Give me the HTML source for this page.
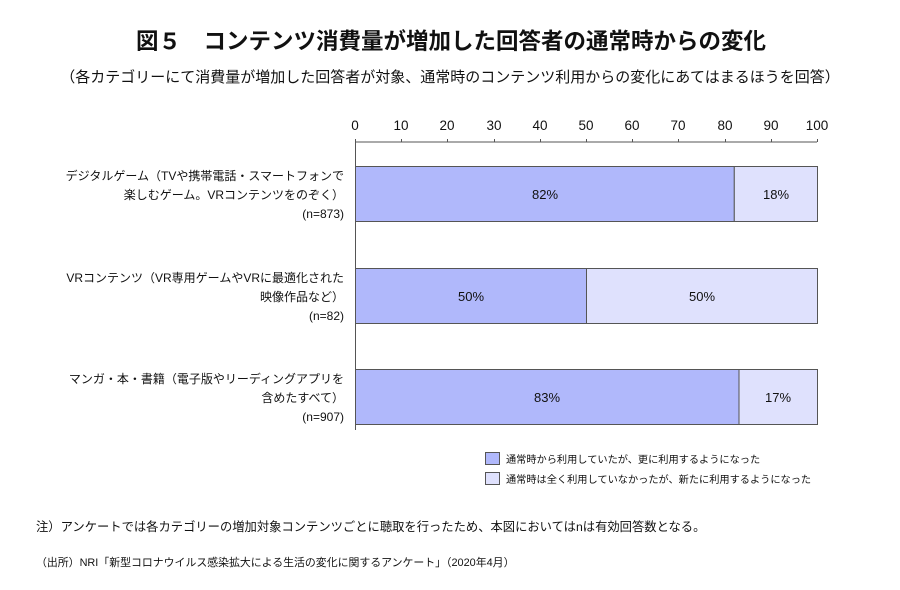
<!DOCTYPE html>
<html><head><meta charset="utf-8"><style>
body{margin:0;background:#fff;}
svg text{font-family:"Liberation Sans","Noto Sans CJK JP",sans-serif;fill:#111;}
</style></head><body>
<svg width="900" height="585" viewBox="0 0 900 585" xmlns="http://www.w3.org/2000/svg">
<rect width="900" height="585" fill="#fff"/>
<text x="451" y="49" text-anchor="middle" font-size="22.5" font-weight="bold">図５　コンテンツ消費量が増加した回答者の通常時からの変化</text>
<text x="450" y="82" text-anchor="middle" font-size="15">（各カテゴリーにて消費量が増加した回答者が対象、通常時のコンテンツ利用からの変化にあてはまるほうを回答）</text>
<g font-size="13.5" text-anchor="middle">
<text x="355" y="130">0</text><text x="401" y="130">10</text><text x="447" y="130">20</text><text x="494" y="130">30</text><text x="540" y="130">40</text><text x="586" y="130">50</text><text x="632" y="130">60</text><text x="678" y="130">70</text><text x="725" y="130">80</text><text x="771" y="130">90</text><text x="817" y="130">100</text>
</g>
<g stroke="#555" stroke-width="1">
<line x1="355" y1="142" x2="817" y2="142"/>
<line x1="355.5" y1="139" x2="355.5" y2="430"/>
<line x1="401.5" y1="139" x2="401.5" y2="142"/><line x1="447.5" y1="139" x2="447.5" y2="142"/><line x1="494.5" y1="139" x2="494.5" y2="142"/><line x1="540.5" y1="139" x2="540.5" y2="142"/><line x1="586.5" y1="139" x2="586.5" y2="142"/><line x1="632.5" y1="139" x2="632.5" y2="142"/><line x1="678.5" y1="139" x2="678.5" y2="142"/><line x1="725.5" y1="139" x2="725.5" y2="142"/><line x1="771.5" y1="139" x2="771.5" y2="142"/><line x1="817.5" y1="139" x2="817.5" y2="142"/>
</g>
<g stroke="#555" stroke-width="1">
<rect x="355.5" y="166.5" width="378.8" height="55" fill="#b0b8fb"/>
<rect x="734.3" y="166.5" width="83.2" height="55" fill="#dfe1fd"/>
<rect x="355.5" y="268.5" width="231" height="55" fill="#b0b8fb"/>
<rect x="586.5" y="268.5" width="231" height="55" fill="#dfe1fd"/>
<rect x="355.5" y="369.5" width="383.5" height="55" fill="#b0b8fb"/>
<rect x="739" y="369.5" width="78.5" height="55" fill="#dfe1fd"/>
</g>
<g font-size="13" text-anchor="middle">
<text x="545" y="199">82%</text><text x="776" y="199">18%</text>
<text x="471" y="301">50%</text><text x="702" y="301">50%</text>
<text x="547" y="402">83%</text><text x="778" y="402">17%</text>
</g>
<g font-size="12" text-anchor="end">
<text x="344" y="180">デジタルゲーム（TVや携帯電話・スマートフォンで</text>
<text x="344" y="199">楽しむゲーム。VRコンテンツをのぞく）</text>
<text x="344" y="218">(n=873)</text>
<text x="344" y="282">VRコンテンツ（VR専用ゲームやVRに最適化された</text>
<text x="344" y="301">映像作品など）</text>
<text x="344" y="320">(n=82)</text>
<text x="344" y="383">マンガ・本・書籍（電子版やリーディングアプリを</text>
<text x="344" y="402">含めたすべて）</text>
<text x="344" y="421">(n=907)</text>
</g>
<rect x="485.5" y="452.5" width="14" height="12" fill="#b0b8fb" stroke="#555"/>
<rect x="485.5" y="472.5" width="14" height="12" fill="#dfe1fd" stroke="#555"/>
<text x="506" y="463" font-size="10.2">通常時から利用していたが、更に利用するようになった</text>
<text x="506" y="483" font-size="10.2">通常時は全く利用していなかったが、新たに利用するようになった</text>
<text x="36" y="531" font-size="12.3">注）アンケートでは各カテゴリーの増加対象コンテンツごとに聴取を行ったため、本図においてはnは有効回答数となる。</text>
<text x="36" y="566" font-size="10.9">（出所）NRI「新型コロナウイルス感染拡大による生活の変化に関するアンケート」（2020年4月）</text>
</svg>
</body></html>
